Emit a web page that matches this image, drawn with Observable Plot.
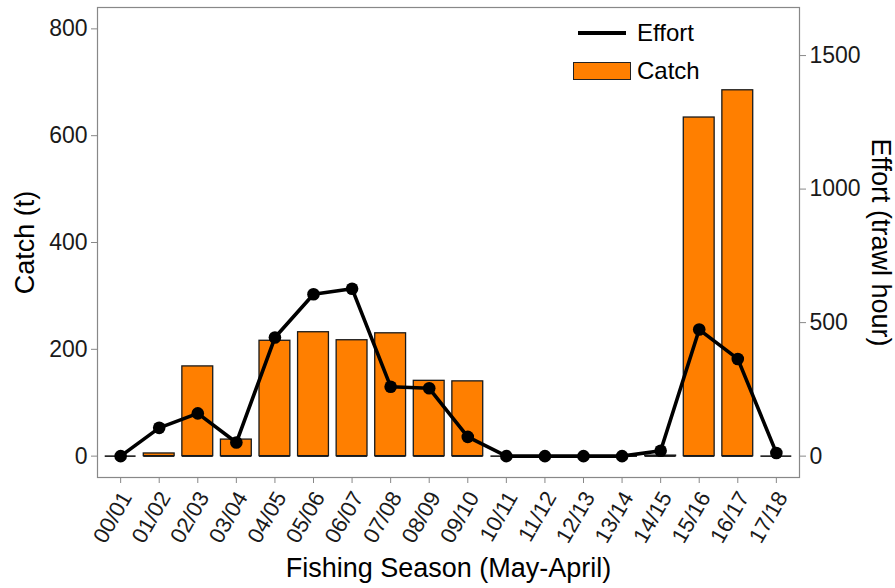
<!DOCTYPE html>
<html>
<head>
<meta charset="utf-8">
<script src="https://cdn.jsdelivr.net/npm/d3@7"></script>
<script src="https://cdn.jsdelivr.net/npm/@observablehq/plot@0.6"></script>
<style>
  body { margin: 0; background: #fff; font-family: "Liberation Sans", Arial, sans-serif; }
  #wrap { position: relative; width: 895px; height: 588px; }
  #legend { position: absolute; left: 573px; top: 14px; font-size: 24px; color: #000; }
  .row { display: flex; align-items: center; height: 38px; }
  .sw { width: 58px; display: flex; align-items: center; justify-content: center; margin-right: 6px; }
  .ln { width: 48px; height: 4px; background: #000; }
  .bx { width: 56px; height: 16px; background: #FF7F00; border: 1px solid #222; }
</style>
</head>
<body>
<div id="wrap">
  <div id="chart"></div>
  <div id="legend">
    <div class="row"><div class="sw"><div class="ln"></div></div><span>Effort</span></div>
    <div class="row"><div class="sw"><div class="bx"></div></div><span>Catch</span></div>
  </div>
</div>
<script>
const seasons = ["00/01","01/02","02/03","03/04","04/05","05/06","06/07","07/08","08/09","09/10","10/11","11/12","12/13","13/14","14/15","15/16","16/17","17/18"];
const catchT = [0, 5, 168, 31, 216, 232, 217, 230, 141, 140, 0, 0, 0, 0, 1, 634, 685, 0];
const effortH = [0, 106, 160, 51, 444, 606, 627, 260, 254, 72, 0, 0, 0, 0, 20, 474, 364, 12];
const leftTicks = [0, 200, 400, 600, 800];
const rightTicks = [0, 500, 1000, 1500];
const effortRatio = 2; // right axis units per left axis unit

const data = seasons.map((s, i) => ({season: s, catch: catchT[i], effort: effortH[i], effortScaled: effortH[i] / effortRatio}));

const chart = Plot.plot({
  width: 895,
  height: 588,
  marginLeft: 97,
  marginRight: 96,
  marginTop: 7,
  marginBottom: 111,
  style: {fontFamily: "'Liberation Sans', Arial, sans-serif", color: "#000", background: "#fff"},
  x: {domain: seasons, paddingInner: 0.2, paddingOuter: 0.2, round: false, label: null},
  y: {domain: [-40, 840], label: null},
  marks: [
    Plot.barY(data, {x: "season", y: "catch", fill: "#FF7F00", stroke: "#1a1a1a", strokeWidth: 1.3}),
    Plot.tickY(data, {x: "season", y: () => 0, stroke: "#1a1a1a", strokeWidth: 1.6}),
    Plot.line(data, {x: "season", y: "effortScaled", stroke: "#000", strokeWidth: 3.6}),
    Plot.dot(data, {x: "season", y: "effortScaled", r: 6.3, fill: "#000"}),
    Plot.frame({stroke: "#888", strokeWidth: 1.2}),
    Plot.axisY({anchor: "left", ticks: leftTicks, tickSize: 6, tickPadding: 4, fontSize: 23, stroke: "#888", fill: "#1a1a1a", label: null}),
    Plot.axisY({anchor: "right", ticks: rightTicks.map(v => v / effortRatio), tickFormat: d => String(d * effortRatio), tickSize: 6, tickPadding: 4, fontSize: 23, stroke: "#888", fill: "#1a1a1a", label: null}),
    Plot.axisX({anchor: "bottom", tickSize: 6, stroke: "#888", label: null, text: null}),
    Plot.axisX({anchor: "bottom", tickSize: 0, tickPadding: 12, dx: 6, dy: 4, tickRotate: -60, fontSize: 22, fill: "#1a1a1a", label: null}),
    Plot.text(["Catch (t)"], {frameAnchor: "left", dx: -72, rotate: -90, textAnchor: "middle", lineAnchor: "middle", fontSize: 27, fill: "#000"}),
    Plot.text(["Effort (trawl hour)"], {frameAnchor: "right", dx: 81, rotate: 90, textAnchor: "middle", lineAnchor: "middle", fontSize: 27, fill: "#000"}),
    Plot.text(["Fishing Season (May-April)"], {frameAnchor: "bottom", dy: 91, textAnchor: "middle", lineAnchor: "middle", fontSize: 27, fill: "#000"})
  ]
});
document.getElementById("chart").appendChild(chart);
</script>
</body>
</html>
